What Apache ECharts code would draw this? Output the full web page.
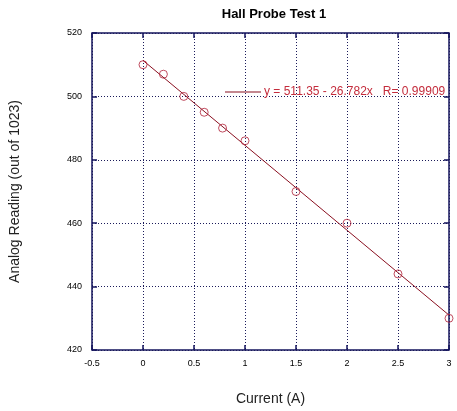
<!DOCTYPE html>
<html>
<head>
<meta charset="utf-8">
<script src="https://cdn.jsdelivr.net/npm/echarts@6/dist/echarts.min.js"></script>
<style>
  html, body { margin: 0; padding: 0; background: #fff; }
  #chart { width: 457px; height: 411px; }
</style>
</head>
<body>
<div id="chart"></div>
<script>
// measured points (current in A, analog reading)
const current = [0, 0.2, 0.4, 0.6, 0.78, 1, 1.5, 2, 2.5, 3];
const reading = [510, 507, 500, 495, 490, 486, 470, 460, 444, 430];
// fit line as printed on the chart
const fitIntercept = 511.35;
const fitSlope = -26.782;
const fitRange = [0, 3];
const fitLabel = 'y = 511.35 - 26.782x   R= 0.99909';

const frame = '#14145e';
const font = 'Liberation Sans, Arial, sans-serif';

const chart = echarts.init(document.getElementById('chart'));

const points = current.map((x, i) => [x, reading[i]]);
const fitLine = fitRange.map(x => [x, fitIntercept + fitSlope * x]);

const tickStyle = { show: true, inside: true, length: 5, lineStyle: { color: frame, width: 1.5 } };
const noLine = { show: false, onZero: false };
const gridLine = { show: true, lineStyle: { type: [1, 2], color: '#1a1a5a', width: 1 } };

const option = {
    animation: false,
    title: {
        text: 'Hall Probe Test 1',
        left: 269,
        textAlign: 'center',
        top: 3,
        textStyle: { fontFamily: font, fontSize: 13, fontWeight: 'bold', color: '#000' }
    },
    grid: {
        left: 89, right: 8, top: 33, bottom: 60,
        show: true, borderColor: frame, borderWidth: 1.5
    },
    legend: {
        data: [{ name: fitLabel, icon: 'rect' }],
        left: 220, top: 81,
        itemWidth: 36, itemHeight: 1,
        itemGap: 4,
        textStyle: { fontFamily: font, fontSize: 12, color: '#c42c3c', padding: [0, 0, 0, -2] }
    },
    xAxis: [{
        type: 'value', min: -0.5, max: 3, interval: 0.5,
        name: 'Current (A)', nameLocation: 'middle', nameGap: 42,
        nameTextStyle: { fontFamily: font, fontSize: 14, color: '#222' },
        axisLine: noLine,
        axisTick: tickStyle,
        axisLabel: { fontFamily: font, fontSize: 9, color: '#000', margin: 9 },
        splitLine: gridLine
    }, {
        type: 'value', min: -0.5, max: 3, interval: 0.5, position: 'top',
        axisLine: noLine, axisTick: tickStyle,
        axisLabel: { show: false }, splitLine: { show: false }
    }],
    yAxis: [{
        type: 'value', min: 420, max: 520, interval: 20,
        name: 'Analog Reading (out of 1023)', nameLocation: 'middle', nameGap: 70,
        nameTextStyle: { fontFamily: font, fontSize: 14, color: '#222' },
        axisLine: noLine,
        axisTick: tickStyle,
        axisLabel: { fontFamily: font, fontSize: 9, color: '#000', margin: 10 },
        splitLine: gridLine
    }, {
        type: 'value', min: 420, max: 520, interval: 20, position: 'right',
        axisLine: noLine, axisTick: tickStyle,
        axisLabel: { show: false }, splitLine: { show: false }
    }],
    series: [{
        name: fitLabel,
        type: 'line',
        data: fitLine,
        symbol: 'none',
        lineStyle: { color: '#8a1020', width: 1 },
        itemStyle: { color: '#8a1020' },
        z: 2
    }, {
        name: 'data',
        type: 'scatter',
        data: points,
        symbol: 'circle',
        symbolSize: 8,
        itemStyle: { color: 'rgba(0,0,0,0)', borderColor: '#b02038', borderWidth: 1 },
        z: 3
    }]
};

chart.setOption(option);
</script>
</body>
</html>
